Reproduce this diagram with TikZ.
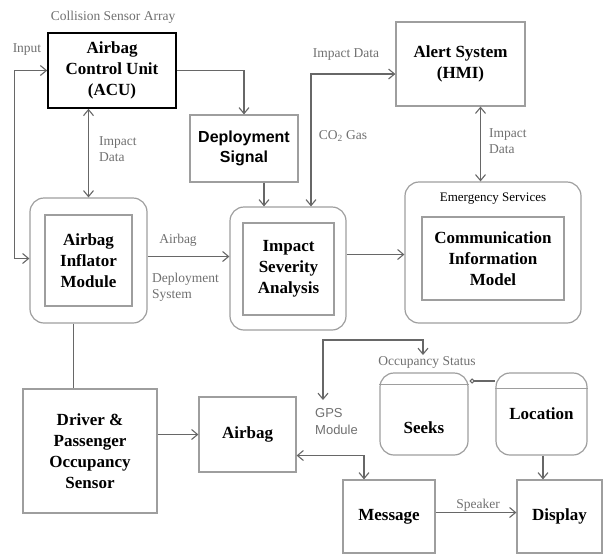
\documentclass[tikz,border=0pt]{standalone}
\usepackage{fontspec}
\setmainfont{Liberation Serif}
\setsansfont{Liberation Sans}
\usepackage{xcolor}
\usepackage{tikz}
\usetikzlibrary{arrows.meta}
\definecolor{edgec}{HTML}{9E9E9E}
\definecolor{wirec}{HTML}{676767}
\definecolor{notec}{HTML}{707070}

\begin{document}
\begin{tikzpicture}[x=1pt,y=-1pt,>={Straight Barb[length=6pt,width=10pt]},
  box/.style={draw=edgec,line width=1.2pt,align=center,inner sep=0pt,font=\fontsize{17}{21}\selectfont\bfseries},
  round/.style={draw=edgec,line width=1.2pt,rounded corners=14pt},
  card/.style={box,rounded corners=14pt},
  lbl/.style={text=notec,align=left,inner sep=0pt,font=\fontsize{13.5}{16}\selectfont},
  wire/.style={draw=wirec,line width=1.1pt}]
\useasboundingbox (0,0) rectangle (603,555);
% top row
\node[box,draw=black,line width=1.6pt,minimum width=128pt,minimum height=75pt] (acu) at (112,70.5) {Airbag\\Control Unit\\(ACU)};
\node[box,font=\fontsize{16}{20}\selectfont\sffamily\bfseries,minimum width=108pt,minimum height=67pt] (dep) at (244,148.5) {Deployment\\Signal};
\node[box,minimum width=129pt,minimum height=84pt] (alert) at (460.5,64) {Alert System\\(HMI)};
% middle row
\node[round,minimum width=117pt,minimum height=125pt] (infl) at (88.5,260.5) {};
\node[box,minimum width=87pt,minimum height=91pt] (inflin) at (infl) {Airbag\\Inflator\\Module};
\node[round,minimum width=116pt,minimum height=123pt] (imp) at (288,268.5) {};
\node[box,minimum width=91pt,minimum height=92pt] (impin) at (288.5,269) {Impact\\Severity\\Analysis};
\node[round,minimum width=176pt,minimum height=141pt] (emer) at (493,252.5) {};
\node[box,minimum width=142pt,minimum height=83pt] (emerin) at (493,258.5) {Communication\\Information\\Model};
\node[inner sep=0pt,font=\fontsize{13}{16}\selectfont] (emertitle) at (493,199) {Emergency Services};
% bottom row
\node[box,minimum width=134pt,minimum height=124pt] (drv) at (90,451) {Driver \&\\Passenger\\Occupancy\\Sensor};
\node[box,minimum width=97pt,minimum height=75pt] (bag) at (247.5,434.5) {Airbag};
\node[card,minimum width=88pt,minimum height=82pt,text height=38pt,text depth=0pt] (seeks) at (424,414) {Seeks};
\node[card,minimum width=91pt,minimum height=82pt] (loc) at (541.5,414) {Location};
\node[box,minimum width=92pt,minimum height=73pt] (msg) at (389,516.5) {Message};
\node[box,minimum width=85pt,minimum height=73pt] (disp) at (559.5,516.5) {Display};
\draw[draw=edgec,line width=1.2pt] ([yshift=-12pt]seeks.north west) -- ([yshift=-12pt]seeks.north east);
\draw[draw=edgec,line width=1.2pt] ([yshift=-16pt]loc.north west) -- ([yshift=-16pt]loc.north east);
% connectors
\draw[wire,<->] (acu.west) -- ++(-33,0) |- ([yshift=2pt]infl.west);
\draw[wire,->] (acu.east) -| (dep.north);
\draw[wire,<->] (infl.north |- acu.south) -- (infl.north);
\draw[wire,->] ([xshift=20pt]dep.south) -- ([xshift=20pt]dep.south |- imp.north);
\draw[wire,<->] ([xshift=23pt]imp.north) |- ([yshift=-10pt]alert.west);
\draw[wire,<->] ([xshift=20pt]alert.south) -- ([xshift=20pt]alert.south |- emer.north);
\draw[wire,->] ([yshift=4pt]infl.east) -- ([yshift=4pt]infl.east -| imp.west);
\draw[wire,->] ([yshift=14pt]imp.east) -- ([yshift=14pt]imp.east -| emer.west);
\draw[wire] ([xshift=-15pt]infl.south) -- ([xshift=-15pt]infl.south |- drv.north);
\draw[wire,->] (drv.east |- bag.west) -- (bag.west);
\draw[wire,<->] ([yshift=-21pt]bag.east) -| ([xshift=-25pt]msg.north);
\coordinate (gpsend) at (323,400);
\coordinate (occend) at (423,355);
\draw[wire,<->] (gpsend) -- ++(0,-60) -| (occend);
\draw[wire,{Circle[open,length=5pt,width=5pt]}-] ([yshift=33pt,xshift=1pt]seeks.east) -- ([yshift=33pt]loc.west);
\draw[wire,->] ([xshift=1.5pt]loc.south) -- ([xshift=1.5pt]loc.south |- disp.north);
\draw[wire,->] ([yshift=4pt]msg.east) -- ([yshift=4pt]msg.east -| disp.west);
% labels
\node[lbl] (collision) at (113,17) {Collision Sensor Array};
\node[lbl] (input) at (27,50) {Input};
\node[lbl,anchor=west] (acudata) at (99,149) {Impact\\Data};
\node[lbl] (alertdata) at (346,55) {Impact Data};
\node[lbl] (gas) at (343,136) {CO\textsubscript{2} Gas};
\node[lbl,anchor=west] (emerdata) at (489,141) {Impact\\Data};
\node[lbl] (bagtop) at (178,240) {Airbag};
\node[lbl,anchor=west] (bagsys) at (152,287) {Deployment\\System};
\node[lbl] (occ) at (427,362) {Occupancy Status};
\node[lbl,anchor=west,font=\fontsize{13}{17}\selectfont\sffamily] (gps) at (315,422) {GPS\\Module};
\node[lbl] (speaker) at (478,505) {Speaker};
\end{tikzpicture}
\end{document}
